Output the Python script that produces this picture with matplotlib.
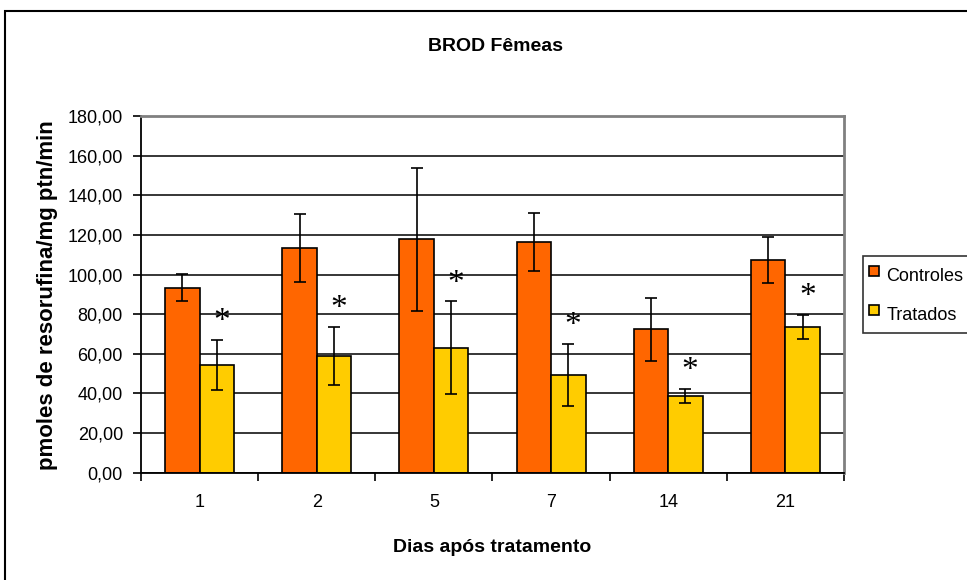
import matplotlib
matplotlib.use("Agg")
import matplotlib.pyplot as plt
from matplotlib.patches import Rectangle
from matplotlib.lines import Line2D
from matplotlib.ticker import FuncFormatter, FixedLocator

plt.rcParams['font.family'] = ['Liberation Sans', 'DejaVu Sans']

dias = ["1", "2", "5", "7", "14", "21"]
controles = [93.4, 113.2, 117.7, 116.6, 72.3, 107.3]
controles_err = [6.9, 17.1, 36.0, 14.6, 16.1, 11.5]
tratados = [54.4, 59.1, 63.1, 49.4, 38.6, 73.6]
tratados_err = [12.8, 14.6, 23.4, 15.6, 3.5, 6.2]
y_ticks = [0, 20, 40, 60, 80, 100, 120, 140, 160, 180]

W, H = 967, 580
fig = plt.figure(figsize=(W / 100, H / 100), dpi=100)

# outer chart border
fig.patches.append(Rectangle((5 / W, -0.2), 1.5, 0.2 + (1 - 11 / H), transform=fig.transFigure,
                             fill=False, edgecolor='black', linewidth=1.5, zorder=0))

ax = fig.add_axes([141 / W, 1 - 472.7 / H, (844 - 141) / W, (472.7 - 116) / H])

x = list(range(len(dias)))
w = 0.294
err_kw = dict(ecolor='black', elinewidth=1.2, capsize=4.3, capthick=1.2)
xc = [i - w / 2 for i in x]
xt = [i + w / 2 for i in x]
ax.bar(xc, controles, width=w, color='#FF6600', edgecolor='black', linewidth=1.2,
       yerr=controles_err, error_kw=err_kw, zorder=2)
ax.bar(xt, tratados, width=w, color='#FFCC00', edgecolor='black', linewidth=1.2,
       yerr=tratados_err, error_kw=err_kw, zorder=2)

for xi, v, e in zip(xt, tratados, tratados_err):
    ax.annotate('*', xy=(xi + 0.04, v + e), xytext=(0, 2), textcoords='offset points',
                ha='center', va='bottom', fontsize=24, family='Liberation Serif', color='black')

ax.set_xlim(-0.5, len(dias) - 0.5)
ax.set_ylim(0, 180)
ax.set_yticks(y_ticks)
ax.yaxis.set_major_formatter(FuncFormatter(lambda v, p: f"{v:.2f}".replace('.', ',')))
ax.grid(axis='y', color='black', linewidth=1.1)
ax.set_axisbelow(True)

ax.set_xticks(x)
ax.set_xticklabels(dias)
ax.xaxis.set_minor_locator(FixedLocator([i - 0.5 for i in range(len(dias) + 1)]))
ax.tick_params(axis='x', which='major', length=0, pad=15, labelsize=13)
ax.tick_params(axis='x', which='minor', length=6, width=1.2, direction='out', color='black')
ax.tick_params(axis='y', length=6, width=1.2, direction='out', pad=7, labelsize=13)

for s in ['left', 'bottom']:
    ax.spines[s].set_color('black')
    ax.spines[s].set_linewidth(1.3)
for s in ['top', 'right']:
    ax.spines[s].set_color('#808080')
    ax.spines[s].set_linewidth(2)

fig.text(495 / W, 1 - 51 / H, 'BROD Fêmeas', ha='center', va='baseline', fontsize=14, fontweight='bold')
fig.text(492.5 / W, 1 - 551.7 / H, 'Dias após tratamento', ha='center', va='baseline', fontsize=14, fontweight='bold')
fig.text(47.5 / W, 1 - 295.5 / H, 'pmoles de resorufina/mg ptn/min', ha='center', va='center',
         rotation=90, fontsize=16, fontweight='bold')

handles = [Line2D([], [], linestyle='none', marker='s', markersize=7, markerfacecolor='#FF6600',
                  markeredgecolor='black', markeredgewidth=1.2),
           Line2D([], [], linestyle='none', marker='s', markersize=7, markerfacecolor='#FFCC00',
                  markeredgecolor='black', markeredgewidth=1.2)]
leg = fig.legend(handles, ['Controles', 'Tratados'], loc='upper left',
                 bbox_to_anchor=(862.7 / W, 1 - 255.7 / H), fontsize=13, frameon=True,
                 fancybox=False, edgecolor='black', handlelength=0.55, handleheight=1.8,
                 handletextpad=0.4, labelspacing=0.75, borderpad=0.35, borderaxespad=0)
leg.get_frame().set_linewidth(1.2)

fig.savefig('out.png', dpi=100)
